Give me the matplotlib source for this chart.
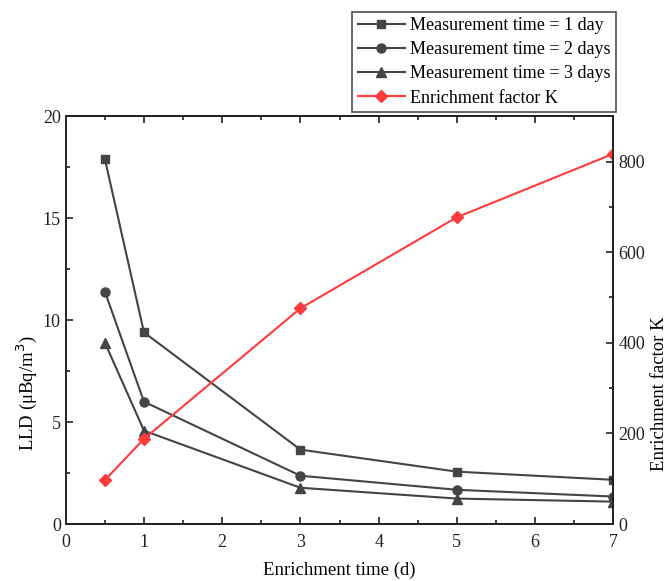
import matplotlib
matplotlib.use("Agg")
import matplotlib.pyplot as plt
from matplotlib.ticker import MultipleLocator

plt.rcParams['font.family'] = ['Liberation Serif', 'DejaVu Serif']

# enrichment time (d)
t = [0.5, 1, 3, 5, 7]
# LLD (uBq/m3) for each measurement time
lld_1day = [17.9, 9.4, 3.65, 2.57, 2.17]
lld_2days = [11.4, 6.0, 2.37, 1.68, 1.35]
lld_3days = [8.9, 4.58, 1.78, 1.25, 1.1]
# enrichment factor K
k_factor = [97, 188, 476, 677, 817]

gray = '#444444'
red = '#ff3b3b'

fig = plt.figure(figsize=(6.71, 5.81), dpi=100)
ax = fig.add_axes([0.098, 0.098, 0.816, 0.702])
ax2 = ax.twinx()

l1, = ax.plot(t, lld_1day, color=gray, marker='s', ms=6, lw=1.5, label='Measurement time = 1 day')
l2, = ax.plot(t, lld_2days, color=gray, marker='o', ms=6.5, lw=1.5, label='Measurement time = 2 days')
l3, = ax.plot(t, lld_3days, color=gray, marker='^', ms=7, lw=1.5, label='Measurement time = 3 days')
l4, = ax2.plot(t, k_factor, color=red, marker='D', ms=6, lw=1.5, label='Enrichment factor K')

ax.set_xlim(0, 7)
ax.set_ylim(0, 20)
ax2.set_ylim(0, 900)

ax.xaxis.set_major_locator(MultipleLocator(1))
ax.xaxis.set_minor_locator(MultipleLocator(0.5))
ax.yaxis.set_major_locator(MultipleLocator(5))
ax.yaxis.set_minor_locator(MultipleLocator(2.5))
ax2.yaxis.set_major_locator(MultipleLocator(200))
ax2.yaxis.set_minor_locator(MultipleLocator(100))

ax.tick_params(which='both', direction='in', top=True, right=False, labelsize=13, colors='#222222')
ax.tick_params(which='major', length=5, width=1.2)
ax.tick_params(which='minor', length=3, width=1.2)
ax.tick_params(axis='x', pad=7)
ax2.tick_params(which='both', direction='in', labelsize=13, colors='#222222')
ax2.tick_params(which='major', length=5, width=1.2)
ax2.tick_params(which='minor', length=3, width=1.2)

for a in (ax, ax2):
    for s in a.spines.values():
        s.set_linewidth(1.3)
        s.set_color('#222222')
ax.spines['left'].set_color('#777777')

ax.set_xlabel('Enrichment time (d)', fontsize=13.5, labelpad=8)
ax.set_ylabel('LLD (μBq/m$^3$)', fontsize=13.5)
ax2.set_ylabel('Enrichment factor K', fontsize=13.5)
ax.yaxis.set_label_coords(-0.048, 0.32)
ax2.yaxis.set_label_coords(1.068, 0.32)

leg = fig.legend(handles=[l1, l2, l3, l4], loc='upper right',
                 bbox_to_anchor=(0.918, 0.98), fontsize=13, frameon=True,
                 fancybox=False, handlelength=2.6, handletextpad=0.3,
                 borderpad=0.3, labelspacing=0.4, borderaxespad=0)
leg.get_frame().set_edgecolor('#222222')
leg.get_frame().set_linewidth(1.2)

fig.savefig('out.png', dpi=100)
